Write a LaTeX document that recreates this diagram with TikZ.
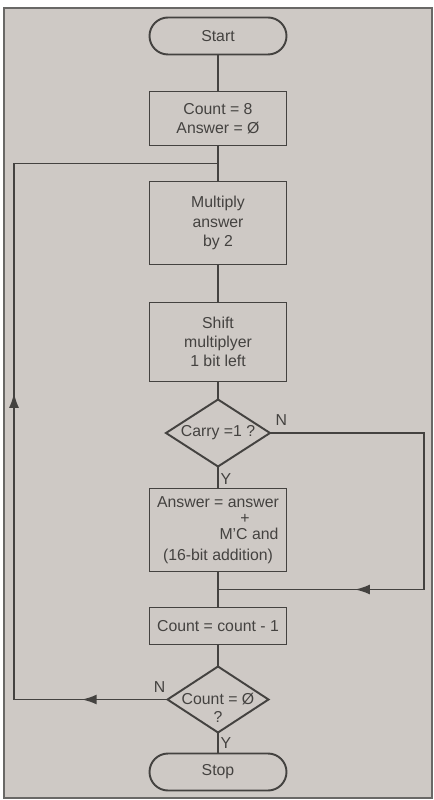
\documentclass[tikz,border=0pt]{standalone}
\usepackage{fontspec}
\setmainfont{Liberation Sans}
\usetikzlibrary{arrows.meta,positioning,shapes,calc,decorations.markings}
\usepackage{xcolor}
\definecolor{paper}{HTML}{CEC9C5}
\definecolor{ink}{HTML}{444240}

\begin{document}
\begin{tikzpicture}[
  every node/.style={font=\fontsize{9}{11}\selectfont, text=ink},
  box/.style={draw=ink, line width=1.1pt, outer sep=0pt, minimum width=27.4mm, align=center, inner sep=2pt},
  term/.style={box, rounded corners=3.7mm, minimum height=7.4mm},
  decision/.style={draw=ink, line width=1.1pt, outer sep=0pt, diamond, aspect=1.55, inner sep=0pt},
  lbl/.style={inner sep=1pt},
  flow/.style={draw=ink, line width=1.1pt},
  midarr/.style={postaction={decorate}, decoration={markings, mark=at position #1 with {\arrow{Latex[length=3mm,width=2mm]}}}},
  twoarr/.style 2 args={postaction={decorate}, decoration={markings,
      mark=at position #1 with {\arrow{Latex[length=3mm,width=2mm]}},
      mark=at position #2 with {\arrow{Latex[length=3mm,width=2mm]}}}},
]
  \useasboundingbox (-4.36,0.72) rectangle (4.30,-15.28);
  % panel
  \draw[fill=paper, draw=ink!80, line width=0.8pt] (-4.28,0.56) rectangle (4.28,-15.24);

  % main column
  \node[term] (start) at (0,0) {Start};
  \node[box, below=7.4mm of start, minimum height=10.8mm] (init) {Count = 8\\Answer = Ø};
  \node[box, below=7.2mm of init, minimum height=16.6mm] (mult) {Multiply\\answer\\by 2};
  \node[box, below=7.6mm of mult, minimum height=15.8mm] (shift) {Shift\\multiplyer\\1 bit left};
  \node[decision, below=3.6mm of shift, minimum width=20.8mm, minimum height=13.4mm] (carry) {Carry =1 ?};
  \node[box, below=4.4mm of carry, minimum height=16.6mm] (add) {Answer = answer\\[-1.5pt]\hspace*{10.8mm}+\\[-2pt]\hspace*{12.4mm}M'C and\\[1pt](16-bit addition)};
  \node[box, below=7.2mm of add, minimum height=7.4mm] (dec) {Count = count - 1};
  \node[decision, below=4.4mm of dec, minimum width=20.2mm, minimum height=13.2mm] (zero) {Count = Ø};
  \node[lbl] (zeroq) at ([yshift=-3.4mm]zero.center) {?};
  \node[term, below=4.2mm of zero] (stop) {Stop};

  % loop points
  \coordinate (back) at ($(init.south)!0.5!(mult.north)$);
  \coordinate (join) at ($(add.south)!0.5!(dec.north)$);
  \coordinate (lft) at ([xshift=-4.08cm]start.center);
  \coordinate (rgt) at ([xshift=4.12cm]start.center);

  % connectors
  \draw[flow] (start) -- (init);
  \draw[flow] (init) -- (mult);
  \draw[flow] (mult) -- (shift);
  \draw[flow] (shift) -- (carry);
  \draw[flow] (carry) -- node[lbl, right, pos=0.55]{Y} (add);
  \draw[flow] (add) -- (dec);
  \draw[flow] (dec) -- (zero);
  \draw[flow] (zero) -- node[lbl, right, pos=0.5]{Y} (stop);
  \draw[flow, midarr=0.735] (carry.east) -- (carry.east -| rgt) |- (join);
  \draw[flow, twoarr={0.096}{0.515}] (zero.west) -- (zero.west -| lft) |- (back);

  % branch labels
  \node[lbl, anchor=south west] (carryn) at ([xshift=2pt,yshift=3pt]carry.east) {N};
  \node[lbl, anchor=south east] (zeron) at ([xshift=0pt,yshift=3pt]zero.west) {N};
\end{tikzpicture}
\end{document}
